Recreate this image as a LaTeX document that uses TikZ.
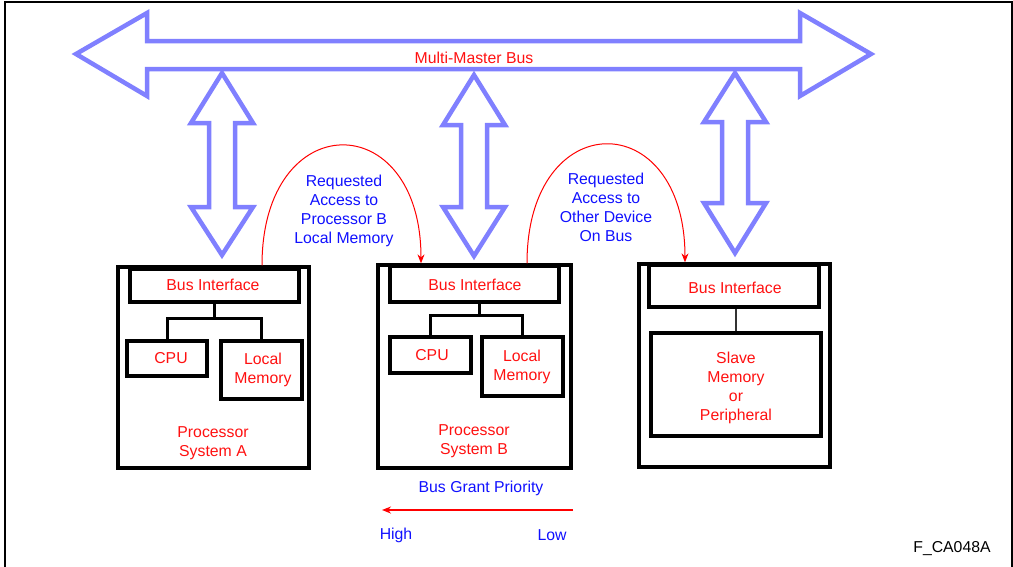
\documentclass[tikz,border=0pt]{standalone}
\usepackage{fontspec}
\setmainfont{Liberation Sans}
\usetikzlibrary{arrows.meta,calc}
\definecolor{busblue}{HTML}{8080FF}
\definecolor{txtblue}{HTML}{1010FF}
\definecolor{txtred}{HTML}{FF1010}
\tikzset{
  lbl/.style={font=\fontsize{15.8}{19}\selectfont, align=center, inner sep=0pt, yshift=-2pt},
  redlbl/.style={lbl, text=txtred},
  bluelbl/.style={lbl, text=txtblue},
  blk/.style={draw=black, line width=3.3pt, inner sep=0pt},
  busarrow/.style={draw=busblue, line width=4.5pt, line join=miter},
  wire/.style={draw=black, line width=3pt},
  req/.style={draw=red, line width=1pt, -{Stealth[length=9pt,width=7pt]}},
}
\begin{document}
\begin{tikzpicture}[x=1pt,y=-1pt]
\useasboundingbox (0,0) rectangle (1013,566);
% frame
\draw[line width=2.5pt] (5,570) -- (5,2) -- (1012,2) -- (1012,570);

% multi-master bus
\draw[busarrow] (76,54) -- (147,13) -- (147,41) -- (800,41) -- (800,13) -- (871,54)
  -- (800,96) -- (800,69) -- (147,69) -- (147,96) -- cycle;
\node[redlbl] (busname) at (474,56) {Multi-Master Bus};

% vertical double arrows
\foreach \cx/\ta/\ha/\hb/\tb in {222/73/123/207/255, 474/75/125/207/256, 735/73/122/203/253}{
  \draw[busarrow] (\cx,\ta) -- ($(\cx,\ha)+(31,0)$) -- ($(\cx,\ha)+(13,0)$) -- ($(\cx,\hb)+(13,0)$)
    -- ($(\cx,\hb)+(31,0)$) -- (\cx,\tb) -- ($(\cx,\hb)+(-31,0)$) -- ($(\cx,\hb)+(-13,0)$)
    -- ($(\cx,\ha)+(-13,0)$) -- ($(\cx,\ha)+(-31,0)$) -- cycle;
}

% Processor system A
\node[blk, minimum width=191pt, minimum height=201pt] (boxA) at (213.5,367.5) {};
\node[blk, minimum width=169pt, minimum height=33pt] (biA) at (214.5,285.5) {};
\node[redlbl] (biAt) at (213,283) {Bus Interface};
\node[blk, minimum width=80pt, minimum height=35pt] (cpuA) at (167,358.5) {};
\node[redlbl] (cpuAt) at (171,356) {CPU};
\node[blk, minimum width=81pt, minimum height=58pt] (lmA) at (261.5,370) {};
\node[redlbl] (lmAt) at (263,368) {Local\\Memory};
\node[redlbl] (psA) at (213,441) {Processor\\System A};
\coordinate (jA) at (214.5,318);
\draw[wire] (biA.south) -- (jA);
\draw[wire] (cpuA.north) |- (jA) -| (lmA.north);

% Processor system B
\node[blk, minimum width=193pt, minimum height=203pt] (boxB) at (474.5,366.5) {};
\node[blk, minimum width=169pt, minimum height=36pt] (biB) at (474.5,284) {};
\node[redlbl] (biBt) at (475,283) {Bus Interface};
\node[blk, minimum width=81pt, minimum height=36pt] (cpuB) at (430.5,355) {};
\node[redlbl] (cpuBt) at (432,353) {CPU};
\node[blk, minimum width=81pt, minimum height=59pt] (lmB) at (522.5,366.5) {};
\node[redlbl] (lmBt) at (522,365) {Local\\Memory};
\node[redlbl] (psB) at (474,439.5) {Processor\\System B};
\coordinate (jB) at (479,315);
\draw[wire] (jB |- biB.south) -- (jB);
\draw[wire] (cpuB.north) |- (jB) -| (lmB.north);

% Slave system C
\node[blk, minimum width=191pt, minimum height=203pt] (boxC) at (734.5,365.5) {};
\node[blk, minimum width=170pt, minimum height=42pt] (biC) at (734,286) {};
\node[redlbl] (biCt) at (735,286) {Bus Interface};
\node[blk, minimum width=170pt, minimum height=103pt] (slave) at (736,384.5) {};
\node[redlbl] (slavet) at (736,386) {Slave\\Memory\\or\\Peripheral};
\draw[draw=black!80, line width=2pt] (slave.north) -- (slave.north |- biC.south);

% request arcs
\draw[req] ([xshift=48.5pt]boxA.north) .. controls (262,106) and (421,106) .. ([xshift=-53.5pt]boxB.north);
\node[bluelbl] (reqA) at (344,209) {Requested\\Access to\\Processor B\\Local Memory};
\draw[req] ([xshift=52.5pt]boxB.north) .. controls (527,105) and (685,105) .. ([xshift=-49.5pt]boxC.north);
\node[bluelbl] (reqB) at (606,205) {Requested\\Access to\\Other Device\\On Bus};

% priority
\node[bluelbl] (prio) at (481,486) {Bus Grant Priority};
\coordinate (pLow) at (573,510);
\coordinate (pHigh) at (382,510);
\draw[draw=red, line width=2pt, -{Stealth[length=9pt,width=7pt]}] (pLow) -- (pHigh);
\node[bluelbl] (high) at (396,533) {High};
\node[bluelbl] (low) at (552,533) {Low};
\node[lbl] (fig) at (952,547) {F\_CA048A};
\end{tikzpicture}
\end{document}
